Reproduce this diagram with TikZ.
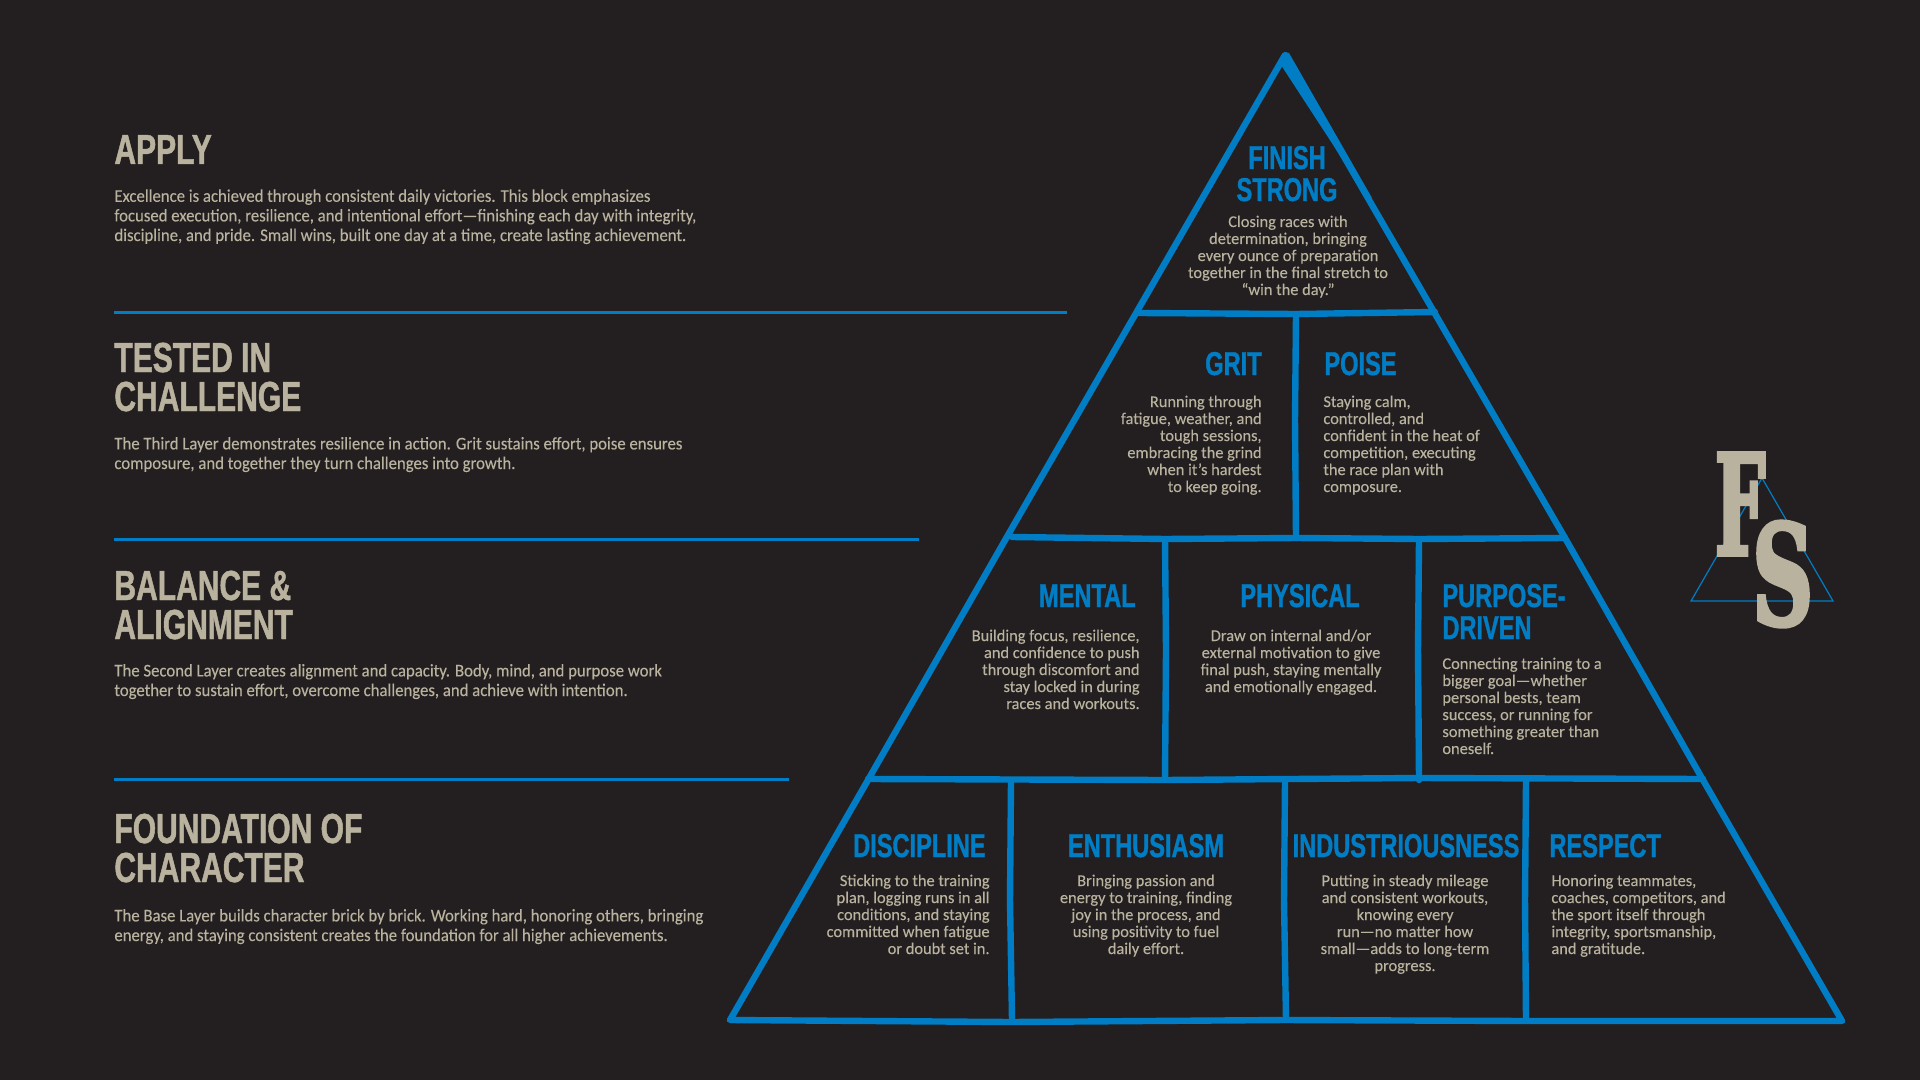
\documentclass[tikz,border=0pt]{standalone}
\usepackage{fontspec}
\setmainfont[FakeBold=0.15]{Carlito}
\newfontfamily\layerfont[FakeStretch=0.94,FakeBold=0.15]{Carlito}
\newfontfamily\headfont[FakeStretch=0.715,FakeBold=1.1]{Liberation Sans}
\newfontfamily\logoffont[FakeStretch=0.5,FakeBold=2.5]{DejaVu Serif}
\newfontfamily\logosfont[FakeStretch=0.6,FakeBold=2.5]{DejaVu Serif}
\usepackage{xcolor}
\usepackage{tikz}
\definecolor{pagedark}{HTML}{231F20}
\definecolor{fsblue}{HTML}{007DC5}
\definecolor{fstan}{HTML}{B9B29E}
\tikzset{
  layerhead/.style={anchor=base west, inner sep=0pt, align=left, text=fstan, font=\headfont\bfseries\fontsize{21}{19.5}\selectfont},
  layertext/.style={anchor=base west, inner sep=0pt, align=left, text=fstan, font=\layerfont\fontsize{8.9}{9.8}\selectfont},
  brickhead/.style={inner sep=0pt, text=fsblue, font=\headfont\bfseries\fontsize{16.5}{16}\selectfont},
  bricktext/.style={inner sep=0pt, text=fstan, font=\fontsize{8.2}{8.5}\selectfont},
  rule/.style={draw=fsblue, line width=1.5pt},
  brickline/.style={draw=fsblue, line width=3.2pt, line cap=round, line join=round},
}
\begin{document}
\begin{tikzpicture}[x=0.5pt, y=-0.5pt]
  \fill[pagedark] (0,0) rectangle (1920,1080);
  % Left column
  \node[layerhead] (applyhead) at (114,164) {APPLY};
  \node[layertext] (applytext) at (114,241) {Excellence is achieved through consistent daily victories. This block emphasizes\\focused execution, resilience, and intentional effort—finishing each day with integrity,\\discipline, and pride. Small wins, built one day at a time, create lasting achievement.};
  \node[layerhead] (testedhead) at (114,411) {TESTED IN\\CHALLENGE};
  \node[layertext] (testedtext) at (114,469) {The Third Layer demonstrates resilience in action. Grit sustains effort, poise ensures\\composure, and together they turn challenges into growth.};
  \node[layerhead] (balancehead) at (114,639) {BALANCE \&\\ALIGNMENT};
  \node[layertext] (balancetext) at (114,696) {The Second Layer creates alignment and capacity. Body, mind, and purpose work\\together to sustain effort, overcome challenges, and achieve with intention.};
  \node[layerhead] (foundhead) at (114,882) {FOUNDATION OF\\CHARACTER};
  \node[layertext] (foundtext) at (114,941) {The Base Layer builds character brick by brick. Working hard, honoring others, bringing\\energy, and staying consistent creates the foundation for all higher achievements.};
  % Rules between the layers
  \draw[rule] (114,313) -- (1067,313);
  \draw[rule] (114,539.5) -- (919,539.5);
  \draw[rule] (114,779.5) -- (789,779.5);
  % Pyramid outline
  \draw[brickline] (1285,55) -- (1012,528) -- (868,780) -- (730,1020) -- (1011,1022) -- (1285,1020) -- (1526,1021) -- (1842,1021) -- (1703,780) -- (1565,538) -- cycle;
  \fill[fsblue] (1285,52) -- (1289,53) -- (1372,198) -- (1369,200) -- (1279,62) -- cycle;
  % Pyramid rows
  \draw[brickline] (1139,313) -- (1296,314) -- (1435,312);
  \draw[brickline] (1012,537) -- (1165,539) -- (1296,538) -- (1419,539) -- (1565,538);
  \draw[brickline] (868,779) -- (1165,780) -- (1419,778) -- (1703,779);
  % Pyramid walls
  \draw[brickline] (1296,314) -- (1295,420) -- (1296,538);
  \draw[brickline] (1165,539) -- (1166,650) -- (1165,780);
  \draw[brickline] (1419,539) -- (1418,650) -- (1419,780);
  \draw[brickline] (1011,780) -- (1010,900) -- (1012,1020);
  \draw[brickline] (1285,780) -- (1284,900) -- (1286,1020);
  \draw[brickline] (1526,780) -- (1525,900) -- (1526,1020);
  % Top brick
  \node[brickhead, align=center, anchor=base] (finishhead) at (1287,201) {FINISH\\STRONG};
  \node[bricktext, align=center, anchor=base] (finishtext) at (1288,295) {Closing races with\\determination, bringing\\every ounce of preparation\\together in the final stretch to\\“win the day.”};
  % Third layer
  \node[brickhead, anchor=base east] (grithead) at (1262,375) {GRIT};
  \node[bricktext, align=right, anchor=base east] (grittext) at (1262,492) {Running through\\fatigue, weather, and\\tough sessions,\\embracing the grind\\when it’s hardest\\to keep going.};
  \node[brickhead, anchor=base west] (poisehead) at (1324,375) {POISE};
  \node[bricktext, align=left, anchor=base west] (poisetext) at (1323,492) {Staying calm,\\controlled, and\\confident in the heat of\\competition, executing\\the race plan with\\composure.};
  % Second layer
  \node[brickhead, anchor=base east] (mentalhead) at (1136,607) {MENTAL};
  \node[bricktext, align=right, anchor=base east] (mentaltext) at (1140,709) {Building focus, resilience,\\and confidence to push\\through discomfort and\\stay locked in during\\races and workouts.};
  \node[brickhead, anchor=base] (physicalhead) at (1300,607) {PHYSICAL};
  \node[bricktext, align=center, anchor=base] (physicaltext) at (1291,692) {Draw on internal and/or\\external motivation to give\\final push, staying mentally\\and emotionally engaged.};
  \node[brickhead, align=left, anchor=base west] (purposehead) at (1442,639) {PURPOSE-\\DRIVEN};
  \node[bricktext, align=left, anchor=base west] (purposetext) at (1442,754) {Connecting training to a\\bigger goal—whether\\personal bests, team\\success, or running for\\something greater than\\oneself.};
  % Base layer
  \node[brickhead, anchor=base east] (discihead) at (986,857) {DISCIPLINE};
  \node[bricktext, align=right, anchor=base east] (discitext) at (990,954) {Sticking to the training\\plan, logging runs in all\\conditions, and staying\\committed when fatigue\\or doubt set in.};
  \node[brickhead, anchor=base] (enthuhead) at (1146,857) {ENTHUSIASM};
  \node[bricktext, align=center, anchor=base] (enthutext) at (1146,954) {Bringing passion and\\energy to training, finding\\joy in the process, and\\using positivity to fuel\\daily effort.};
  \node[brickhead, anchor=base] (indushead) at (1406,857) {INDUSTRIOUSNESS};
  \node[bricktext, align=center, anchor=base] (industext) at (1405,971) {Putting in steady mileage\\and consistent workouts,\\knowing every\\run—no matter how\\small—adds to long-term\\progress.};
  \node[brickhead, anchor=base west] (respecthead) at (1549,857) {RESPECT};
  \node[bricktext, align=left, anchor=base west] (respecttext) at (1551,954) {Honoring teammates,\\coaches, competitors, and\\the sport itself through\\integrity, sportsmanship,\\and gratitude.};
  % Logo
  \draw[fsblue, line width=0.6pt] (1762,478) -- (1691,601) -- (1833,601) -- cycle;
  \node[anchor=base west, inner sep=0pt, text=fstan, font=\logoffont\bfseries\fontsize{70}{70}\selectfont] (logof) at (1715,555) {F};
  \node[anchor=base west, inner sep=0pt, text=fstan, font=\logosfont\bfseries\fontsize{70}{70}\selectfont] (logos) at (1752,625) {S};
\end{tikzpicture}
\end{document}
